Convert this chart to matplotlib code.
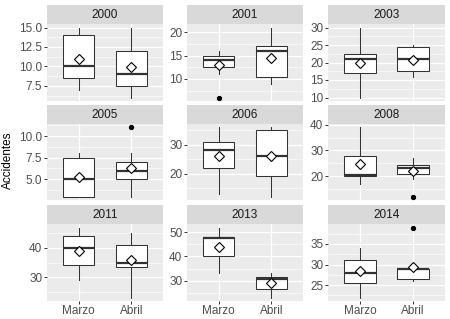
import matplotlib
matplotlib.use("Agg")
import matplotlib.pyplot as plt
import numpy as np

plt.rcParams['font.family'] = ['Liberation Sans', 'DejaVu Sans']

years = ['2000', '2001', '2003', '2005', '2006', '2008', '2011', '2013', '2014']
months = ['Marzo', 'Abril']

# box stats, one value per year
marzo_lo = [7, 11, 10, 3, 13, 17, 29, 33, 22]
marzo_q1 = [8.5, 12.5, 17, 3, 22, 20, 34, 40, 25.5]
marzo_med = [10, 14, 21, 5, 28, 20.5, 40, 47.5, 28]
marzo_q3 = [14, 15, 22.5, 7.5, 31, 28, 44, 48, 31]
marzo_hi = [15, 16, 30, 8, 36, 39, 47, 52, 34]
marzo_mean = [11, 13, 20, 5.3, 26, 24.7, 38.8, 44, 28.4]
marzo_out = [[], [6], [], [], [], [], [], [], []]

abril_lo = [6, 9, 16, 3, 12, 19, 23, 23, 26]
abril_q1 = [7.5, 10.5, 17.5, 5, 19, 21, 33.5, 26.5, 26.5]
abril_med = [9, 16, 21, 6, 26, 23, 35, 30.5, 29]
abril_q3 = [12, 17, 24.5, 7, 35, 24.5, 41, 31.5, 29]
abril_hi = [15, 21, 25, 8, 36, 27, 45, 33, 29]
abril_mean = [9.9, 14.4, 20.7, 6.3, 26, 22, 36, 29, 29.4]
abril_out = [[], [], [], [11], [], [12], [], [], [39]]

yticks = [[7.5, 10, 12.5, 15], [10, 15, 20], [10, 15, 20, 25, 30],
          [5, 7.5, 10], [20, 30], [20, 30, 40],
          [30, 40], [30, 40, 50], [25, 30, 35]]

W, H = 450, 319
fig = plt.figure(figsize=(W / 100, H / 100), dpi=100)

col_px = [(47, 163), (187, 303), (328, 445)]
row_px = [(24, 101), (124, 200), (224, 301)]
strip_h = 19

for k, yr in enumerate(years):
    r, c = divmod(k, 3)
    x0, x1 = col_px[c]
    top, bot = row_px[r]
    ax = fig.add_axes([x0 / W, 1 - bot / H, (x1 - x0) / W, (bot - top) / H])
    sax = fig.add_axes([x0 / W, 1 - top / H, (x1 - x0) / W, strip_h / H])
    sax.set_facecolor('#D9D9D9')
    sax.set_xticks([])
    sax.set_yticks([])
    for s in sax.spines.values():
        s.set_visible(False)
    sax.text(0.5, 0.45, yr, ha='center', va='center', fontsize=8.5,
             color='#1A1A1A', transform=sax.transAxes)

    stats = [
        dict(whislo=marzo_lo[k], q1=marzo_q1[k], med=marzo_med[k], q3=marzo_q3[k],
             whishi=marzo_hi[k], mean=marzo_mean[k], fliers=marzo_out[k]),
        dict(whislo=abril_lo[k], q1=abril_q1[k], med=abril_med[k], q3=abril_q3[k],
             whishi=abril_hi[k], mean=abril_mean[k], fliers=abril_out[k]),
    ]
    ax.set_facecolor('#EBEBEB')
    ax.set_axisbelow(True)
    ax.bxp(stats, positions=[1, 2], widths=0.6, showmeans=True, showcaps=False,
           patch_artist=True,
           boxprops=dict(facecolor='white', edgecolor='#333333', linewidth=0.75),
           whiskerprops=dict(color='#333333', linewidth=0.75),
           medianprops=dict(color='#333333', linewidth=1.6),
           meanprops=dict(marker='D', markerfacecolor='white', markeredgecolor='black',
                          markersize=5.5, markeredgewidth=0.8),
           flierprops=dict(marker='o', markerfacecolor='black', markeredgecolor='black',
                           markersize=2.8))

    vals = []
    for s in stats:
        vals += [s['whislo'], s['whishi']] + list(s['fliers'])
    lo, hi = min(vals), max(vals)
    pad = (hi - lo) * 0.05
    ax.set_ylim(lo - pad, hi + pad)
    ax.set_xlim(0.4, 2.6)

    t = yticks[k]
    step = t[1] - t[0]
    minors = [v for v in np.arange(t[0] - step / 2, t[-1] + step, step)
              if lo - pad < v < hi + pad]
    ax.set_yticks(t)
    ax.set_yticks(minors, minor=True)
    if any(v != int(v) for v in t):
        ax.set_yticklabels(['%.1f' % v for v in t])
    else:
        ax.set_yticklabels(['%d' % v for v in t])
    ax.tick_params(axis='y', which='minor', length=0)
    ax.grid(True, which='major', color='white', linewidth=0.9)
    ax.grid(True, which='minor', axis='y', color='white', linewidth=0.45)
    ax.tick_params(axis='both', which='major', length=2.2, width=0.7, color='#333333',
                   labelsize=8.5, labelcolor='#4D4D4D', pad=1.2)
    ax.set_xticks([1, 2])
    if r == 2:
        ax.set_xticklabels(months)
        ax.tick_params(axis='x', pad=0.5)
    else:
        ax.set_xticklabels([])
        ax.tick_params(axis='x', length=0)
    for s in ax.spines.values():
        s.set_visible(False)

fig.text(8 / W, 1 - 160 / H, 'Accidentes', rotation=90, ha='center', va='center',
         fontsize=8.5, color='black')

fig.savefig('out.png', dpi=100)
